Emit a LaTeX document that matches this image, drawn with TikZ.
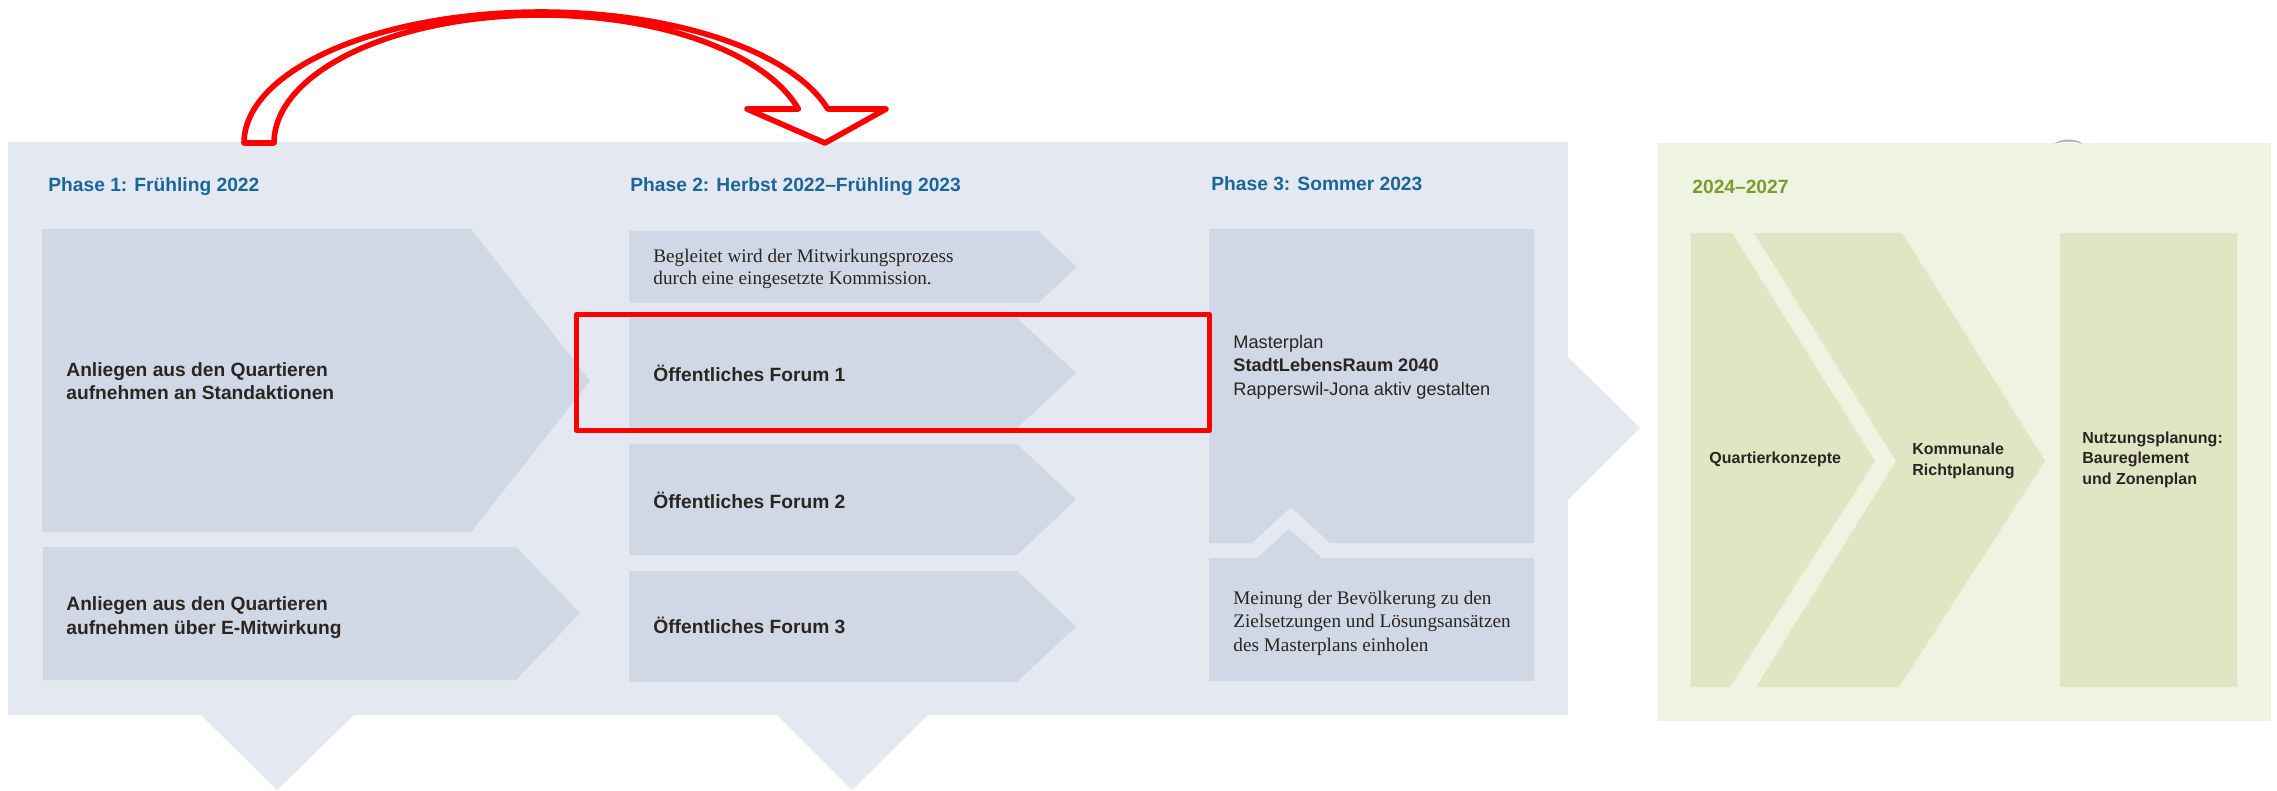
\documentclass[tikz,border=0pt]{standalone}
\usepackage{fontspec}
\setmainfont{Liberation Sans}
\newfontfamily\timesfont{Liberation Serif}

\definecolor{panelblue}{HTML}{E4E8F1}
\definecolor{boxblue}{HTML}{D0D8E6}
\definecolor{panelgreen}{HTML}{EFF3E1}
\definecolor{boxgreen}{HTML}{E0E5C4}
\definecolor{titleblue}{HTML}{1A6699}
\definecolor{olive}{HTML}{7D9B2C}
\definecolor{ink}{HTML}{2B2522}
\definecolor{markred}{HTML}{FF0000}

\begin{document}
\begin{tikzpicture}[
        x=0.5pt, y=-0.5pt,
        phase/.style={anchor=base west, inner sep=0pt, text=titleblue,
            font=\bfseries\fontsize{9.6}{11.5}\selectfont},
        lbl/.style={anchor=base west, inner sep=0pt, align=left, text=ink,
            font=\bfseries\fontsize{9.6}{11.6}\selectfont},
        note/.style={lbl, font=\timesfont\fontsize{9.6}{11.2}\selectfont},
        small/.style={lbl, font=\bfseries\fontsize{8}{10.2}\selectfont},
        redframe/.style={draw=markred, line width=2.6pt, line join=round},
        bigarrow/.style={draw=markred, fill=white, line width=2.8pt, line join=round}
    ]
    \useasboundingbox (0,0) rectangle (2277,791);

    % Panels
    \fill[panelblue] (8,142) -- (1568,142) -- (1568,357) -- (1640,428) -- (1568,500)
        -- (1568,715) -- (928,715) -- (852,790) -- (777,715)
        -- (354,715) -- (277,790) -- (201,715) -- (8,715) -- cycle;
    \fill[panelgreen] (1658,143) rectangle (2271,721);
    \fill[black!15!boxblue] (2055,144) .. controls (2058,138) and (2079,138) .. (2082,144)
        .. controls (2077,141) and (2060,141) .. cycle;

    % Phase 1 boxes
    \fill[boxblue] (42,229) -- (471,229) -- (590,381) -- (471,532) -- (42,532) -- cycle;
    \fill[boxblue] (43,547) -- (516,547) -- (580,613) -- (516,680) -- (43,680) -- cycle;

    % Phase 2 boxes
    \fill[boxblue] (629,231) -- (1038,231) -- (1077,267) -- (1038,303) -- (629,303) -- cycle;
    \foreach \t/\b in {318/428, 444/555, 571/682}
        \fill[boxblue] (629,\t) -- (1017,\t) -- (1076,{(\t+\b)/2}) -- (1017,\b) -- (629,\b) -- cycle;

    % Phase 3 boxes
    \fill[boxblue] (1209,229) -- (1534,229) -- (1534,543) -- (1330,543) -- (1291,507)
        -- (1252,543) -- (1209,543) -- cycle;
    \fill[boxblue] (1209,558) -- (1257,558) -- (1289,529) -- (1322,558) -- (1534,558)
        -- (1534,681) -- (1209,681) -- cycle;

    % 2024-2027 boxes
    \fill[boxgreen] (1691,233) -- (1732,233) -- (1875,461) -- (1730,687) -- (1691,687) -- cycle;
    \fill[boxgreen] (1754,233) -- (1902,233) -- (2045,461) -- (1899,687) -- (1756,687)
        -- (1896,461) -- cycle;
    \fill[boxgreen] (2060,233) rectangle (2237,687);

    % Titles
    \node[phase] (ph1) at (48,192) {Phase 1: Frühling 2022};
    \node[phase] (ph2) at (630,192) {Phase 2: Herbst 2022–Frühling 2023};
    \node[phase] (ph3) at (1211,191) {Phase 3: Sommer 2023};
    \node[phase, text=olive] (ph4) at (1692,194) {2024–2027};

    % Labels
    \node[lbl] (stand) at (66,400) {Anliegen aus den Quartieren\\aufnehmen an Standaktionen};
    \node[lbl] (emit) at (66,634) {Anliegen aus den Quartieren\\aufnehmen über E-Mitwirkung};
    \node[note] (komm) at (653,285) {Begleitet wird der Mitwirkungsprozess\\durch eine eingesetzte Kommission.};
    \node[lbl] (forum1) at (653,382) {Öffentliches Forum 1};
    \node[lbl] (forum2) at (653,508) {Öffentliches Forum 2};
    \node[lbl] (forum3) at (653,633) {Öffentliches Forum 3};
    \node[lbl, font=\fontsize{9.1}{11.6}\selectfont] (mplan) at (1233,395)
        {Masterplan\\\textbf{StadtLebensRaum 2040}\\Rapperswil-Jona aktiv gestalten};
    \node[note, font=\timesfont\fontsize{9.6}{11.75}\selectfont] (meinung) at (1233,651)
        {Meinung der Bevölkerung zu den\\Zielsetzungen und Lösungsansätzen\\des Masterplans einholen};
    \node[small] (qk) at (1709,463) {Quartierkonzepte};
    \node[small] (richt) at (1912,475) {Kommunale\\Richtplanung};
    \node[small] (nutz) at (2082,484) {Nutzungsplanung:\\Baureglement\\und Zonenplan};

    % Highlight and jump arrow
    \draw[redframe] (576.5,314.5) rectangle (1209.5,430.5);
    \draw[bigarrow] plot[domain=180:344.96, samples=80] ({541+297*cos(\x)},{143+131*sin(\x)})
        -- (886,109) -- (825,143) -- (747,109)
        -- plot[domain=344.6:180, samples=80] ({541+267*cos(\x)},{143+128*sin(\x)}) -- cycle;

\end{tikzpicture}
\end{document}
